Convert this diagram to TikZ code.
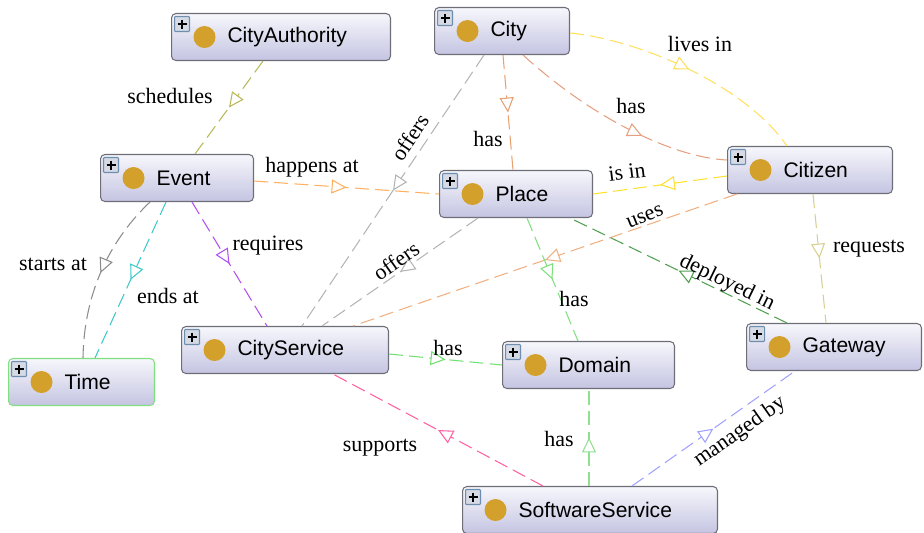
\documentclass[tikz,border=0pt]{standalone}
\usepackage{fontspec}
\setmainfont{Liberation Serif}
\setsansfont{Liberation Sans}
\usepackage{xcolor}
\usetikzlibrary{arrows.meta, calc, decorations.markings}
\definecolor{boxtop}{HTML}{F7F7FC}
\definecolor{boxbot}{HTML}{C4C4E2}
\definecolor{boxline}{HTML}{6E6E78}
\definecolor{timeline}{HTML}{7EE07E}
\definecolor{dot}{HTML}{D4A02C}
\definecolor{plusfill}{HTML}{D6DAE4}
\definecolor{plusline}{HTML}{6E8EB0}
\definecolor{cSched}{HTML}{B8B858}
\definecolor{cHappens}{HTML}{FFB060}
\definecolor{cStarts}{HTML}{8C8C8C}
\definecolor{cEnds}{HTML}{40C8C8}
\definecolor{cRequires}{HTML}{B050F0}
\definecolor{cCityPlace}{HTML}{E8A070}
\definecolor{cCityCitizen}{HTML}{E4A080}
\definecolor{cLives}{HTML}{FFE060}
\definecolor{cIsIn}{HTML}{FFE030}
\definecolor{cUses}{HTML}{F0B080}
\definecolor{cOffers}{HTML}{B4B4B4}
\definecolor{cPlaceDomain}{HTML}{80E080}
\definecolor{cDeployed}{HTML}{50A050}
\definecolor{cRequests}{HTML}{D8D090}
\definecolor{cSvcDomain}{HTML}{70E070}
\definecolor{cSupports}{HTML}{FF60A0}
\definecolor{cSwDomain}{HTML}{90E090}
\definecolor{cManaged}{HTML}{A0A0FF}

\begin{document}
\begin{tikzpicture}[
    x=0.02cm, y=-0.02cm,
    relpos/.initial=0.5,
    cls/.style={
        rectangle, rounded corners=2.5pt, anchor=north west,
        draw=boxline, line width=0.6pt,
        top color=boxtop, bottom color=boxbot,
        text width=#1, minimum height=0.94cm, inner xsep=0pt, align=left,
        font=\sffamily\fontsize{12}{14}\selectfont,
        path picture={
            \fill[dot] ([xshift=0.66cm]path picture bounding box.west) circle (0.22cm);
            \draw[plusline, fill=plusfill, rounded corners=0.5pt]
                ([xshift=0.06cm,yshift=-0.06cm]path picture bounding box.north west)
                rectangle ++(0.3cm,-0.3cm);
            \draw[black, line width=1.2pt]
                ([xshift=0.12cm,yshift=-0.21cm]path picture bounding box.north west) -- ++(0.18cm,0)
                ([xshift=0.21cm,yshift=-0.12cm]path picture bounding box.north west) -- ++(0,-0.18cm);
        },
    },
    rel/.style={
        draw=#1, line width=0.6pt, dash pattern=on 8pt off 3.5pt,
        postaction={decorate, decoration={markings,
            mark=at position \pgfkeysvalueof{/tikz/relpos} with {\arrow[color=#1]{Triangle[fill=white, length=8.5pt, width=8pt]}}}},
    },
    lbl/.style={font=\fontsize{12.5}{14}\selectfont, inner sep=1pt},
]
\useasboundingbox (0,0) rectangle (924,533);

% ── Classes ─────────────────────────────────────────────────────────────────
\node[cls=4.38cm] (cityauthority)   at (171,13)  {\hspace*{1.12cm}CityAuthority};
\node[cls=2.70cm] (city)            at (434,7)   {\hspace*{1.12cm}City};
\node[cls=3.06cm] (event)           at (100,154) {\hspace*{1.12cm}Event};
\node[cls=3.06cm] (place)           at (439,170) {\hspace*{1.12cm}Place};
\node[cls=3.30cm] (citizen)         at (727,146) {\hspace*{1.12cm}Citizen};
\node[cls=2.92cm, draw=timeline] (time) at (8,358) {\hspace*{1.12cm}Time};
\node[cls=4.14cm] (cityservice)     at (181,326) {\hspace*{1.12cm}CityService};
\node[cls=3.44cm] (domain)          at (502,341) {\hspace*{1.12cm}Domain};
\node[cls=3.50cm] (gateway)         at (746,323) {\hspace*{1.12cm}Gateway};
\node[cls=5.10cm] (softwareservice) at (462,486) {\hspace*{1.12cm}SoftwareService};

% ── Relations ───────────────────────────────────────────────────────────────
\draw[rel=cSched] ($(cityauthority.south west)+(92,0)$) -- ($(event.north west)+(95,0)$);
\draw[rel=cHappens] ($(event.east)+(0,3)$) -- (place.west);
\draw[rel=cStarts] ($(event.south west)+(50,0)$) .. controls (112,238) and (84,290) .. ($(time.north west)+(75,0)$);
\draw[rel=cEnds] ($(event.south west)+(66,0)$) -- ($(time.north west)+(87,0)$);
\draw[rel=cRequires] ($(event.south west)+(92,0)$) -- ($(cityservice.north west)+(86,0)$);
\draw[rel=cCityPlace] ($(city.south west)+(69,0)$) -- ($(place.north west)+(74,0)$);
\draw[relpos=0.62, rel=cCityCitizen] ($(city.south west)+(89,0)$) .. controls (600,125) and (680,158) .. ($(citizen.north west)+(0,14)$);
\draw[rel=cLives] ($(city.north east)+(0,26)$) .. controls (640,40) and (745,85) .. ($(citizen.north west)+(60,0)$);
\draw[rel=cIsIn] ($(citizen.west)+(0,6)$) -- (place.east);
\draw[rel=cUses] ($(citizen.south west)+(10,0)$) -- ($(cityservice.north west)+(172,0)$);
\draw[rel=cOffers] ($(city.south west)+(50,0)$) -- ($(cityservice.north west)+(121,0)$);
\draw[rel=cOffers] ($(place.south west)+(39,0)$) -- ($(cityservice.north west)+(141,0)$);
\draw[rel=cPlaceDomain] ($(place.south west)+(88,0)$) -- ($(domain.north west)+(76,0)$);
\draw[rel=cDeployed] ($(gateway.north west)+(41,0)$) -- ($(place.south west)+(131,0)$);
\draw[rel=cRequests] ($(citizen.south west)+(86,0)$) -- ($(gateway.north west)+(80,0)$);
\draw[rel=cSvcDomain] ($(cityservice.east)+(0,4)$) -- (domain.west);
\draw[rel=cSupports] ($(softwareservice.north west)+(81,0)$) -- ($(cityservice.south west)+(152,0)$);
\draw[rel=cSwDomain] ($(softwareservice.north west)+(127,0)$) -- ($(domain.south west)+(87,0)$);
\draw[rel=cManaged] ($(softwareservice.north west)+(170,0)$) -- ($(gateway.south west)+(49,0)$);

% ── Labels ──────────────────────────────────────────────────────────────────
\node[lbl] (l-sched)    at (170,96)  {schedules};
\node[lbl] (l-happens)  at (312,167) {happens at};
\node[lbl] (l-starts)   at (53,264)  {starts at};
\node[lbl] (l-ends)     at (168,296) {ends at};
\node[lbl] (l-requires) at (268,246) {requires};
\node[lbl] (l-hasplace) at (488,139) {has};
\node[lbl] (l-hascit)   at (631,106) {has};
\node[lbl] (l-lives)    at (700,44)  {lives in};
\node[lbl, rotate=7]  (l-isin)     at (627,172) {is in};
\node[lbl, rotate=22] (l-uses)     at (645,217) {uses};
\node[lbl, rotate=56] (l-offers1)  at (410,137) {offers};
\node[lbl, rotate=35] (l-offers2)  at (396,261) {offers};
\node[lbl] (l-hasdom)   at (574,299) {has};
\node[lbl, rotate=-26] (l-deployed) at (727,283) {deployed in};
\node[lbl] (l-requests) at (869,249) {requests};
\node[lbl] (l-hassvc)   at (448,348) {has};
\node[lbl] (l-supports) at (380,448) {supports};
\node[lbl] (l-hassw)    at (559,439) {has};
\node[lbl, rotate=35] (l-managed)  at (740,432) {managed by};

\end{tikzpicture}
\end{document}
